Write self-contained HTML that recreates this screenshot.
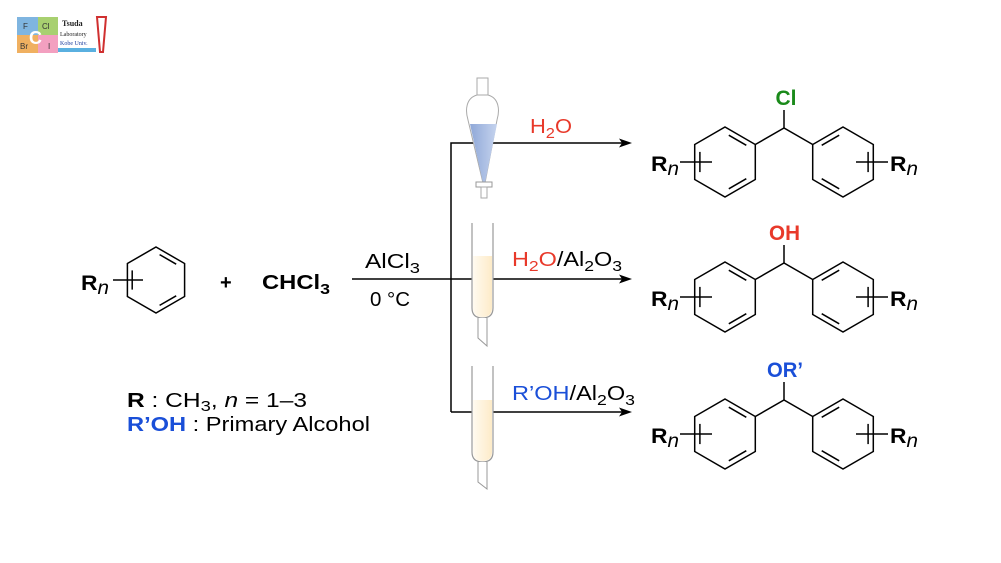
<!DOCTYPE html>
<html><head><meta charset="utf-8"><style>
html,body{margin:0;padding:0;background:#fff}
svg{display:block}
text{font-family:"Liberation Sans",Arial,sans-serif}
</style></head><body>
<svg width="1001" height="563" viewBox="0 0 1001 563" xmlns="http://www.w3.org/2000/svg">
<defs>
<linearGradient id="liq" x1="0" x2="1"><stop offset="0" stop-color="#8fa8d8"/><stop offset="1" stop-color="#c5d3ee"/></linearGradient>
<linearGradient id="yel" x1="0" x2="1"><stop offset="0" stop-color="#fffaf0"/><stop offset="1" stop-color="#fdebc8"/></linearGradient>
</defs>
<!-- logo -->
<rect x="17" y="17" width="21" height="18" fill="#7fb5e0"/>
<rect x="38" y="17" width="20" height="18" fill="#a8d070"/>
<rect x="17" y="35" width="21" height="18" fill="#f0b060"/>
<rect x="38" y="35" width="20" height="18" fill="#f3a0c0"/>
<text x="23" y="29" font-size="8" fill="#333">F</text>
<text x="42" y="29" font-size="8" fill="#333">Cl</text>
<text x="20" y="49" font-size="8" fill="#333">Br</text>
<text x="48" y="49" font-size="8" fill="#333">I</text>
<text x="29" y="44" font-size="18" font-weight="bold" fill="#fff">C</text>
<rect x="58" y="48" width="38" height="4" fill="#5ab0e0"/>
<text x="62" y="26" font-size="8" font-weight="bold" fill="#222" style="font-family:'Liberation Serif',serif">Tsuda</text>
<text x="60" y="36" font-size="6" fill="#222" style="font-family:'Liberation Serif',serif">Laboratory</text>
<text x="60" y="45" font-size="6" fill="#2040a0" style="font-family:'Liberation Serif',serif">Kobe Univ.</text>
<path d="M97 17 L106 17 L103 52 L100 52 Z" fill="none" stroke="#d03030" stroke-width="2"/>

<g stroke="#000" stroke-width="1.5" fill="none">
<polygon points="156,247 184.6,263.5 184.6,296.5 156,313 127.4,296.5 127.4,263.5"/>
<line x1="159.6" y1="254.6" x2="176.2" y2="264.2"/>
<line x1="176.2" y1="295.8" x2="159.6" y2="305.4"/>
<line x1="132.2" y1="289.6" x2="132.2" y2="270.4"/>
<line x1="113" y1="280" x2="143" y2="280"/>
<line x1="352" y1="279" x2="622" y2="279"/>
<polyline points="451,412 451,143 622,143"/>
<line x1="451" y1="412" x2="622" y2="412"/>
</g>
<g fill="#000">
<polygon points="632,143 619,138.5 622,143 619,147.5"/>
<polygon points="632,279 619,274.5 622,279 619,283.5"/>
<polygon points="632,412 619,407.5 622,412 619,416.5"/>
</g>

<!-- funnel -->
<path d="M477 78 L488 78 L488 95 L477 95 Z" fill="#fff" stroke="#aaa" stroke-width="1"/>
<path d="M477 95 C466 98 465 110 468 120 L483 183 L485 183 L497 120 C500 110 499 98 488 95 Z" fill="#fff" stroke="#aaa" stroke-width="1"/>
<path d="M470 124 L497 124 L485 183 L483 183 Z" fill="url(#liq)"/>
<rect x="476" y="182" width="16" height="5" fill="#fff" stroke="#999" stroke-width="1"/>
<rect x="481" y="187" width="6" height="11" fill="#fff" stroke="#aaa" stroke-width="1"/>
<!-- tube 2 -->
<path d="M472 223 L472 308 Q472 318 482.5 318 Q493 318 493 308 L493 223" fill="#fff" stroke="#999" stroke-width="1.2"/>
<path d="M473 256 L492 256 L492 308 Q492 317 482.5 317 Q473 317 473 308 Z" fill="url(#yel)"/>
<path d="M478 318 L478 338 L487 346 L487 318" fill="#fff" stroke="#999" stroke-width="1"/>
<!-- tube 3 -->
<path d="M472 366 L472 452 Q472 462 482.5 462 Q493 462 493 452 L493 366" fill="#fff" stroke="#999" stroke-width="1.2"/>
<path d="M473 400 L492 400 L492 452 Q492 461 482.5 461 Q473 461 473 452 Z" fill="url(#yel)"/>
<path d="M478 462 L478 482 L487 489 L487 462" fill="#fff" stroke="#999" stroke-width="1"/>

<!-- texts left -->
<text x="81" y="290" font-size="21" font-weight="bold" textLength="28" lengthAdjust="spacingAndGlyphs">R<tspan font-weight="normal" font-style="italic" font-size="19" dy="4">n</tspan></text>
<text x="220" y="289" font-size="20" font-weight="bold">+</text>
<text x="262" y="289" font-size="20" font-weight="bold" textLength="68" lengthAdjust="spacingAndGlyphs">CHCl<tspan font-size="15" dy="5">3</tspan></text>
<text x="365" y="268" font-size="20" textLength="55" lengthAdjust="spacingAndGlyphs">AlCl<tspan font-size="15" dy="5">3</tspan></text>
<text x="370" y="306" font-size="20" textLength="40" lengthAdjust="spacingAndGlyphs">0 °C</text>
<text x="127" y="407" font-size="20" textLength="180" lengthAdjust="spacingAndGlyphs"><tspan font-weight="bold">R</tspan> : CH<tspan font-size="15" dy="4">3</tspan><tspan dy="-4">,  </tspan><tspan font-style="italic">n</tspan> = 1–3</text>
<text x="127" y="431" font-size="20" textLength="243" lengthAdjust="spacingAndGlyphs"><tspan font-weight="bold" fill="#1a4fd8">R’OH</tspan> : Primary Alcohol</text>

<text x="530" y="133" font-size="20" fill="#e8392a" textLength="42" lengthAdjust="spacingAndGlyphs">H<tspan font-size="15" dy="5">2</tspan><tspan dy="-5">O</tspan></text>
<text x="512" y="266" font-size="20" textLength="110" lengthAdjust="spacingAndGlyphs"><tspan fill="#e8392a">H</tspan><tspan fill="#e8392a" font-size="15" dy="5">2</tspan><tspan fill="#e8392a" dy="-5">O</tspan>/Al<tspan font-size="15" dy="5">2</tspan><tspan dy="-5">O</tspan><tspan font-size="15" dy="5">3</tspan></text>
<text x="512" y="400" font-size="20" textLength="123" lengthAdjust="spacingAndGlyphs"><tspan fill="#1a4fd8">R’OH</tspan>/Al<tspan font-size="15" dy="5">2</tspan><tspan dy="-5">O</tspan><tspan font-size="15" dy="5">3</tspan></text>

<!-- products -->
<g>
<g stroke="#000" stroke-width="1.5" fill="none">
<polygon points="725,127 755.3,144.5 755.3,179.5 725,197 694.7,179.5 694.7,144.5"/>
<line x1="728.8" y1="135.2" x2="746.3" y2="145.3"/>
<line x1="746.3" y1="178.7" x2="728.8" y2="188.8"/>
<line x1="699.9" y1="172.1" x2="699.9" y2="151.9"/>
<line x1="680" y1="162" x2="712" y2="162"/>
<polygon points="843,127 873.3,144.5 873.3,179.5 843,197 812.7,179.5 812.7,144.5"/>
<line x1="839.2" y1="135.2" x2="821.7" y2="145.3"/>
<line x1="821.7" y1="178.7" x2="839.2" y2="188.8"/>
<line x1="868.1" y1="172.1" x2="868.1" y2="151.9"/>
<line x1="856" y1="162" x2="888" y2="162"/>
<polyline points="755.3,144.5 784,128 812.7,144.5"/>
<line x1="784" y1="128" x2="784" y2="110"/>
</g>
<text x="651" y="171" font-size="21" font-weight="bold" textLength="28" lengthAdjust="spacingAndGlyphs">R<tspan font-weight="normal" font-style="italic" font-size="19" dy="4">n</tspan></text>
<text x="890" y="171" font-size="21" font-weight="bold" textLength="28" lengthAdjust="spacingAndGlyphs">R<tspan font-weight="normal" font-style="italic" font-size="19" dy="4">n</tspan></text>
<text x="786" y="105" font-size="21" font-weight="bold" fill="#1a8a1a" text-anchor="middle">Cl</text>
</g>

<g transform="translate(0,135)">
<g stroke="#000" stroke-width="1.5" fill="none">
<polygon points="725,127 755.3,144.5 755.3,179.5 725,197 694.7,179.5 694.7,144.5"/>
<line x1="728.8" y1="135.2" x2="746.3" y2="145.3"/>
<line x1="746.3" y1="178.7" x2="728.8" y2="188.8"/>
<line x1="699.9" y1="172.1" x2="699.9" y2="151.9"/>
<line x1="680" y1="162" x2="712" y2="162"/>
<polygon points="843,127 873.3,144.5 873.3,179.5 843,197 812.7,179.5 812.7,144.5"/>
<line x1="839.2" y1="135.2" x2="821.7" y2="145.3"/>
<line x1="821.7" y1="178.7" x2="839.2" y2="188.8"/>
<line x1="868.1" y1="172.1" x2="868.1" y2="151.9"/>
<line x1="856" y1="162" x2="888" y2="162"/>
<polyline points="755.3,144.5 784,128 812.7,144.5"/>
<line x1="784" y1="128" x2="784" y2="110"/>
</g>
<text x="651" y="171" font-size="21" font-weight="bold" textLength="28" lengthAdjust="spacingAndGlyphs">R<tspan font-weight="normal" font-style="italic" font-size="19" dy="4">n</tspan></text>
<text x="890" y="171" font-size="21" font-weight="bold" textLength="28" lengthAdjust="spacingAndGlyphs">R<tspan font-weight="normal" font-style="italic" font-size="19" dy="4">n</tspan></text>
<text x="769" y="105" font-size="21" font-weight="bold" fill="#e8392a" textLength="31" lengthAdjust="spacingAndGlyphs">OH</text>
</g>

<g transform="translate(0,272)">
<g stroke="#000" stroke-width="1.5" fill="none">
<polygon points="725,127 755.3,144.5 755.3,179.5 725,197 694.7,179.5 694.7,144.5"/>
<line x1="728.8" y1="135.2" x2="746.3" y2="145.3"/>
<line x1="746.3" y1="178.7" x2="728.8" y2="188.8"/>
<line x1="699.9" y1="172.1" x2="699.9" y2="151.9"/>
<line x1="680" y1="162" x2="712" y2="162"/>
<polygon points="843,127 873.3,144.5 873.3,179.5 843,197 812.7,179.5 812.7,144.5"/>
<line x1="839.2" y1="135.2" x2="821.7" y2="145.3"/>
<line x1="821.7" y1="178.7" x2="839.2" y2="188.8"/>
<line x1="868.1" y1="172.1" x2="868.1" y2="151.9"/>
<line x1="856" y1="162" x2="888" y2="162"/>
<polyline points="755.3,144.5 784,128 812.7,144.5"/>
<line x1="784" y1="128" x2="784" y2="110"/>
</g>
<text x="651" y="171" font-size="21" font-weight="bold" textLength="28" lengthAdjust="spacingAndGlyphs">R<tspan font-weight="normal" font-style="italic" font-size="19" dy="4">n</tspan></text>
<text x="890" y="171" font-size="21" font-weight="bold" textLength="28" lengthAdjust="spacingAndGlyphs">R<tspan font-weight="normal" font-style="italic" font-size="19" dy="4">n</tspan></text>
<text x="767" y="105" font-size="21" font-weight="bold" fill="#1a4fd8" textLength="36" lengthAdjust="spacingAndGlyphs">OR’</text>
</g>
</svg>
</body></html>
